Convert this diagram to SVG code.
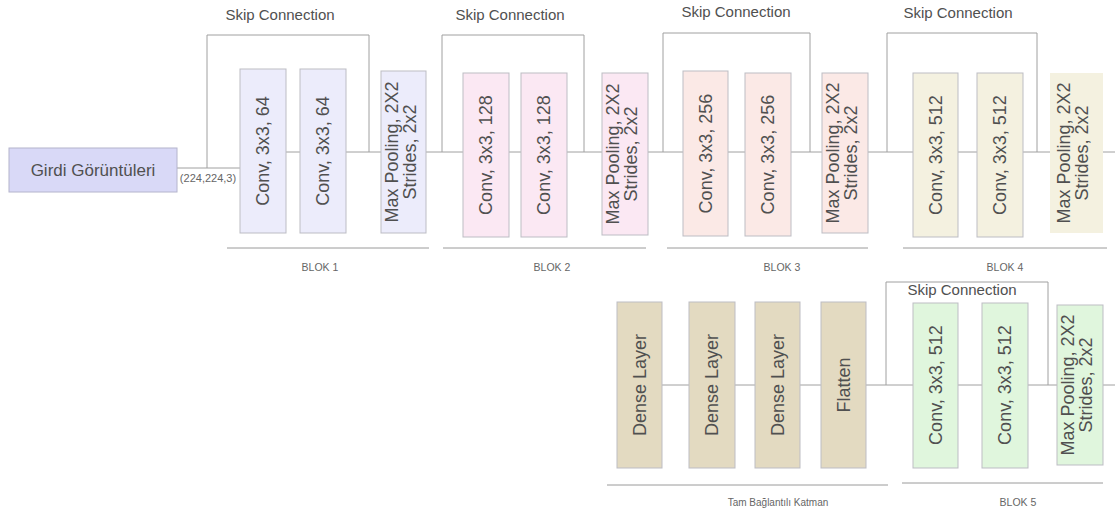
<svg xmlns="http://www.w3.org/2000/svg" width="1115" height="512" viewBox="0 0 1115 512">
<style>
text{font-family:"Liberation Sans",Arial,sans-serif;fill:#505050}
.lbl{font-size:18px;text-anchor:middle}
.skip{font-size:15px;text-anchor:middle}
.blk{font-size:10.5px;text-anchor:middle;fill:#666}
.box{stroke:#bdbdc4;stroke-width:1}
.b1{fill:#ececfb}
.b2{fill:#fbe8f3}
.b3{fill:#fbe9e6}
.b4{fill:#f4f1e0}
.bd{fill:#e3dac1}
.b5{fill:#e0f6dd}
.ln{fill:none;stroke:#a0a0a0;stroke-width:1}
.sep{fill:none;stroke:#9a9a9a;stroke-width:1}
</style>
<rect width="1115" height="512" fill="#ffffff"/>

<g id="connectors">
<path class="ln" d="M177,168 H240 M207,168 V35 H369 V152"/>
<path class="ln" d="M286,152 H300 M346,152 H381 M426,152 H463 M442,152 V35 H584 V152 M509,152 H521 M567,152 H602"/>
<path class="ln" d="M648,152 H683 M663,152 V33 H810 V152 M728,152 H745 M791,152 H822"/>
<path class="ln" d="M868,152 H913 M887,152 V33 H1037 V152 M958,152 H977 M1023,152 H1050 M1103,152 H1115"/>
<path class="ln" d="M662,385 H689 M735,385 H755 M800,385 H821 M866,385 H913 M886,385 V282 H1048 V385 M958,385 H982 M1028,385 H1057 M1103,385 H1115"/>
</g>

<g id="separators">
<path class="sep" d="M227,248 H429 M443,248 H646 M667,248 H868 M903,248 H1107 M607,485 H888 M902,483 H1103"/>
</g>

<g id="girdi">
<rect x="9" y="148" width="168" height="44" fill="#d9d9f7" stroke="#b4b4cc"/>
<text x="93" y="176" style="font-size:17px;text-anchor:middle">Girdi Görüntüleri</text>
<text x="208" y="182" style="font-size:11px;text-anchor:middle;fill:#666">(224,224,3)</text>
</g>

<g id="skip-labels">
<text class="skip" x="280" y="20">Skip Connection</text>
<text class="skip" x="510" y="20">Skip Connection</text>
<text class="skip" x="736" y="17">Skip Connection</text>
<text class="skip" x="958" y="18">Skip Connection</text>
<text class="skip" x="962" y="295">Skip Connection</text>
</g>

<g id="blok1">
<rect class="box b1" x="240" y="69" width="46" height="164"/>
<text class="lbl" transform="translate(263,151) rotate(-90)" x="0" y="6">Conv, 3x3, 64</text>
<rect class="box b1" x="300" y="69" width="46" height="164"/>
<text class="lbl" transform="translate(323,151) rotate(-90)" x="0" y="6">Conv, 3x3, 64</text>
<rect class="box b1" x="381" y="71" width="45" height="162"/>
<text class="lbl" transform="translate(403.5,152) rotate(-90)"><tspan x="0" y="-6">Max Pooling, 2X2</tspan><tspan x="0" y="12">Strides, 2x2</tspan></text>
<text class="blk" x="320" y="271">BLOK 1</text>
</g>

<g id="blok2">
<rect class="box b2" x="463" y="73" width="46" height="164"/>
<text class="lbl" transform="translate(486,155) rotate(-90)" x="0" y="6">Conv, 3x3, 128</text>
<rect class="box b2" x="521" y="73" width="46" height="164"/>
<text class="lbl" transform="translate(544,155) rotate(-90)" x="0" y="6">Conv, 3x3, 128</text>
<rect class="box b2" x="602" y="73" width="46" height="162"/>
<text class="lbl" transform="translate(625,154) rotate(-90)"><tspan x="0" y="-6">Max Pooling, 2X2</tspan><tspan x="0" y="12">Strides, 2x2</tspan></text>
<text class="blk" x="552" y="271">BLOK 2</text>
</g>

<g id="blok3">
<rect class="box b3" x="683" y="71" width="45" height="165"/>
<text class="lbl" transform="translate(705.5,153.5) rotate(-90)" x="0" y="6">Conv, 3x3, 256</text>
<rect class="box b3" x="745" y="73" width="46" height="163"/>
<text class="lbl" transform="translate(768,154.5) rotate(-90)" x="0" y="6">Conv, 3x3, 256</text>
<rect class="box b3" x="822" y="73" width="46" height="160"/>
<text class="lbl" transform="translate(845,153) rotate(-90)"><tspan x="0" y="-6">Max Pooling, 2X2</tspan><tspan x="0" y="12">Strides, 2x2</tspan></text>
<text class="blk" x="782" y="271">BLOK 3</text>
</g>

<g id="blok4">
<rect class="box b4" x="913" y="73" width="45" height="164"/>
<text class="lbl" transform="translate(935.5,155) rotate(-90)" x="0" y="6">Conv, 3x3, 512</text>
<rect class="box b4" x="977" y="73" width="46" height="164"/>
<text class="lbl" transform="translate(1000,155) rotate(-90)" x="0" y="6">Conv, 3x3, 512</text>
<rect x="1050" y="73" width="53" height="160" fill="#f4f1e0"/>
<text class="lbl" transform="translate(1076,153) rotate(-90)"><tspan x="0" y="-6">Max Pooling, 2X2</tspan><tspan x="0" y="12">Strides, 2x2</tspan></text>
<text class="blk" x="1005" y="271">BLOK 4</text>
</g>

<g id="dense">
<rect class="box bd" x="617" y="302" width="45" height="166"/>
<text class="lbl" transform="translate(639.5,385) rotate(-90)" x="0" y="6">Dense Layer</text>
<rect class="box bd" x="689" y="302" width="46" height="166"/>
<text class="lbl" transform="translate(712,385) rotate(-90)" x="0" y="6">Dense Layer</text>
<rect class="box bd" x="755" y="302" width="45" height="166"/>
<text class="lbl" transform="translate(777.5,385) rotate(-90)" x="0" y="6">Dense Layer</text>
<rect class="box bd" x="821" y="302" width="45" height="166"/>
<text class="lbl" transform="translate(843.5,385) rotate(-90)" x="0" y="6">Flatten</text>
<text class="blk" x="778" y="506" style="font-size:10px">Tam Bağlantılı Katman</text>
</g>

<g id="blok5">
<rect class="box b5" x="913" y="303" width="45" height="165"/>
<text class="lbl" transform="translate(935.5,385) rotate(-90)" x="0" y="6">Conv, 3x3, 512</text>
<rect class="box b5" x="982" y="303" width="46" height="165"/>
<text class="lbl" transform="translate(1005,385) rotate(-90)" x="0" y="6">Conv, 3x3, 512</text>
<rect class="box b5" x="1057" y="305" width="46" height="160"/>
<text class="lbl" transform="translate(1080,385) rotate(-90)"><tspan x="0" y="-6">Max Pooling, 2X2</tspan><tspan x="0" y="12">Strides, 2x2</tspan></text>
<text class="blk" x="1018" y="506">BLOK 5</text>
</g>
</svg>
